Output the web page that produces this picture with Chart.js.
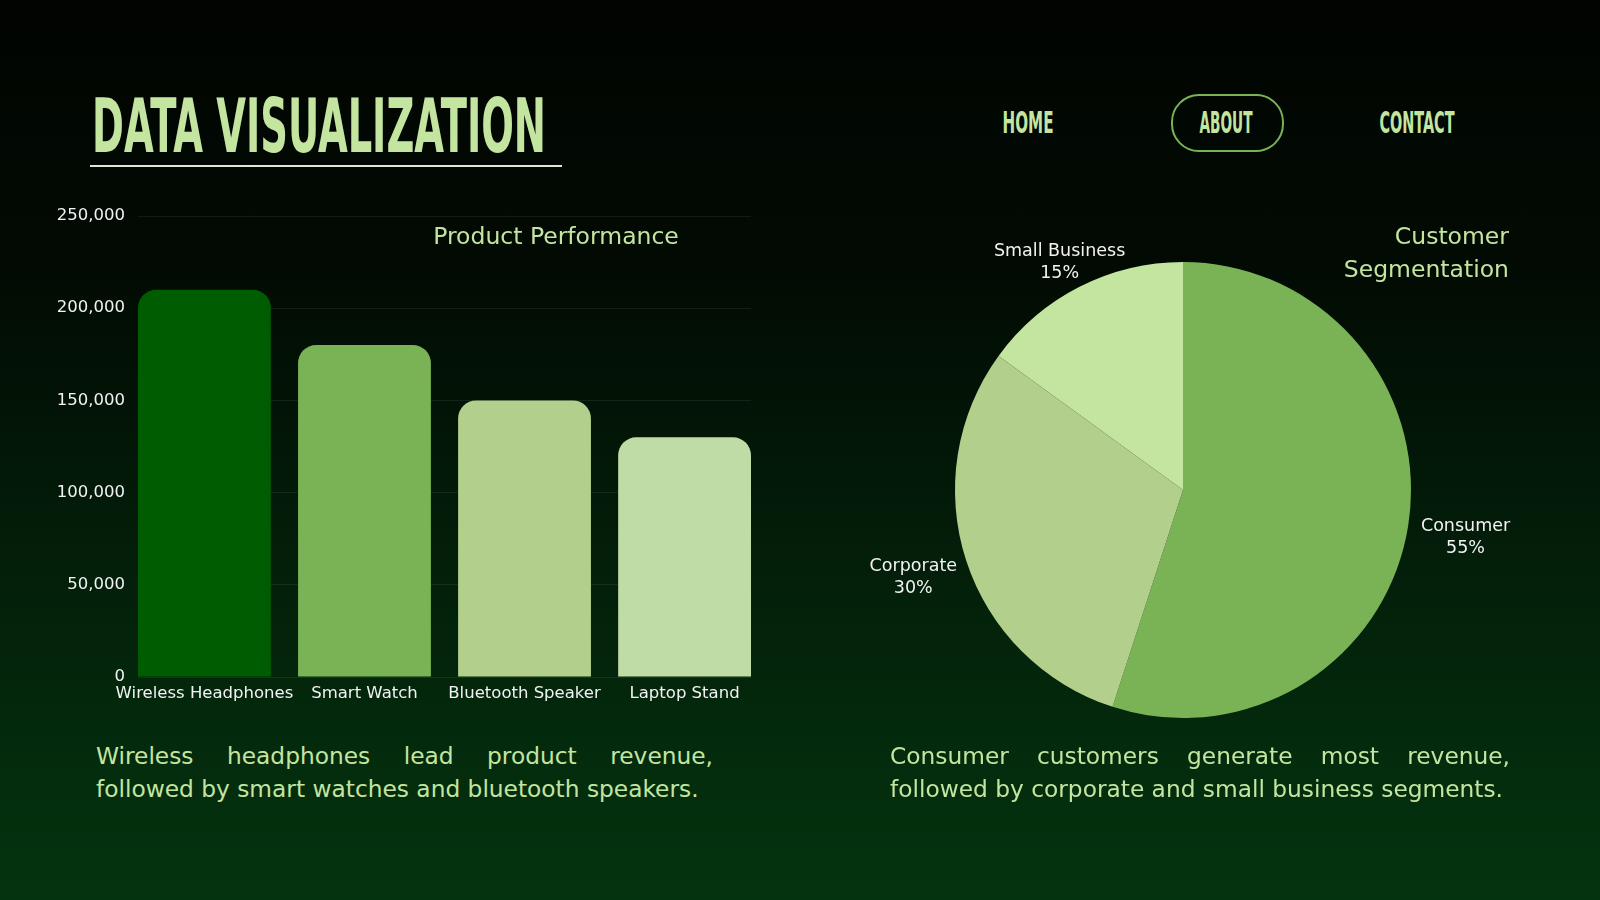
<!DOCTYPE html>
<html>
<head>
<meta charset="utf-8">
<script src="https://cdn.jsdelivr.net/npm/chart.js@4.4.1/dist/chart.umd.min.js"></script>
<style>
  html, body { margin: 0; padding: 0; }
  body {
    width: 1600px; height: 900px; overflow: hidden; position: relative;
    background: linear-gradient(180deg, #010401 0%, #020b03 30%, #03200a 65%, #04340f 100%);
    font-family: "DejaVu Sans", sans-serif;
  }
  .title {
    position: absolute; left: 92px; top: 84px;
    font-family: "Liberation Sans Narrow", "DejaVu Sans Condensed", sans-serif;
    font-weight: bold; font-size: 75px; line-height: 84px; color: #c3e5a0;
    transform-origin: left center; white-space: nowrap;
  }
  .rule { position: absolute; left: 90px; top: 165px; width: 472px; height: 2px; background: #dfe8d6; }
  .nav {
    position: absolute; top: 106px; height: 34px; line-height: 34px;
    font-family: "Liberation Sans Narrow", "DejaVu Sans Condensed", sans-serif;
    font-weight: bold; font-size: 30px; color: #c3e5a0; white-space: nowrap;
  }
  .pill {
    position: absolute; left: 1171px; top: 94px; width: 109px; height: 54px;
    border: 2px solid #7ab356; border-radius: 28px;
  }
  .label { position: absolute; color: #c3e5a0; font-size: 23.5px; line-height: 33px; white-space: nowrap; }
  .desc { position: absolute; color: #c3e5a0; font-size: 23.3px; line-height: 33px; }
  .desc .l1 { display: block; text-align: justify; text-align-last: justify; }
  .desc .l2 { display: block; white-space: nowrap; }
  canvas { position: absolute; }
</style>
</head>
<body>
<div class="title" id="title">DATA VISUALIZATION</div>
<div class="rule"></div>
<div class="pill"></div>
<div class="nav" data-cx="1028" data-w="51">HOME</div>
<div class="nav" data-cx="1226" data-w="53">ABOUT</div>
<div class="nav" data-cx="1417" data-w="75">CONTACT</div>

<div id="barBox" style="position:absolute;left:40px;top:200px;width:720px;height:510px">
  <canvas id="barChart"></canvas>
</div>
<div class="label" style="left:556px;top:220px;transform:translateX(-50%)">Product Performance</div>

<div id="pieBox" style="position:absolute;left:833px;top:210px;width:700px;height:560px">
  <canvas id="pieChart"></canvas>
</div>
<div class="label" style="right:91px;top:220px;text-align:right">Customer<br>Segmentation</div>

<div class="desc" style="left:96px;top:739px;width:617px">
  <span class="l1">Wireless headphones lead product revenue,</span>
  <span class="l2">followed by smart watches and bluetooth speakers.</span>
</div>
<div class="desc" style="left:890px;top:739px;width:620px">
  <span class="l1">Consumer customers generate most revenue,</span>
  <span class="l2">followed by corporate and small business segments.</span>
</div>

<script>
const productLabels = ["Wireless Headphones", "Smart Watch", "Bluetooth Speaker", "Laptop Stand"]
const productRevenue = [210000, 180000, 150000, 130000]
const barColors = ["#005c00", "#7ab356", "#b2d08c", "#bfdba6"]
const revenueTicks = [0, 50000, 100000, 150000, 200000, 250000]

const segmentLabels = ["Consumer", "Corporate", "Small Business"]
const segmentShare = [55, 30, 15]
const segmentColors = ["#7ab356", "#b2d08c", "#c3e5a0"]

// squeeze the heading and menu to the condensed look of the original
const title = document.getElementById("title")
title.style.transform = "scaleX(" + (454 / title.getBoundingClientRect().width) + ")"
document.querySelectorAll(".nav").forEach((el) => {
  const w = el.getBoundingClientRect().width
  el.style.left = el.dataset.cx + "px"
  el.style.transform = "translateX(-50%) scaleX(" + (el.dataset.w / w) + ")"
})

Chart.defaults.font.family = '"DejaVu Sans", sans-serif'
Chart.defaults.color = "#f2f2f2"

// bars sit edge to edge with the grid, so x is an index axis with a bit of margin
const barFraction = 0.83
const barPoints = productRevenue.map((v, i) => ({ x: i, y: v }))

const barCtx = document.getElementById("barChart")

const barChart = new Chart(barCtx, {
  type: "bar",
  data: {
    datasets: [
      {
        data: barPoints,
        backgroundColor: barColors,
        borderRadius: { topLeft: 18, topRight: 18 },
        borderSkipped: "bottom",
        barPercentage: barFraction,
        categoryPercentage: 1,
      },
    ],
  },
  options: {
    responsive: true,
    maintainAspectRatio: false,
    animation: false,
    layout: { padding: { top: 16, right: 9 } },
    plugins: { legend: false, tooltip: { enabled: false } },
    scales: {
      x: {
        type: "linear",
        offset: false,
        min: -barFraction / 2,
        max: productLabels.length - 1 + barFraction / 2,
        grid: { display: false, drawTicks: false, offset: false },
        border: { display: false },
        afterBuildTicks: (scale) => { scale.ticks = productLabels.map((l, i) => ({ value: i })) },
        ticks: {
          font: { size: 16.5 },
          padding: 7,
          maxRotation: 0,
          autoSkip: false,
          callback: (v) => productLabels[v],
        },
        afterFit: (scale) => {
          scale.height = 33
          scale.paddingLeft = 0
          scale.paddingRight = 0
        },
      },
      y: {
        min: 0,
        max: 250000,
        grid: { color: "rgba(255,255,255,0.07)", drawTicks: false },
        border: { display: false },
        afterBuildTicks: (scale) => { scale.ticks = revenueTicks.map((v) => ({ value: v })) },
        ticks: {
          font: { size: 16.5 },
          padding: 13,
          callback: (v) => v.toLocaleString("en-US"),
        },
        afterFit: (scale) => {
          scale.width = 98
          scale.paddingTop = 0
          scale.paddingBottom = 0
        },
      },
    },
  },
})

// outside labels for the pie, placed from each arc's own geometry
const pieLabels = {
  id: "pieLabels",
  afterDatasetsDraw(chart) {
    const ctx = chart.ctx
    const meta = chart.getDatasetMeta(0)
    const total = segmentShare.reduce((a, b) => a + b, 0)
    ctx.save()
    ctx.font = '17.5px "DejaVu Sans", sans-serif'
    ctx.fillStyle = "#f2f2f2"
    ctx.textAlign = "center"
    ctx.textBaseline = "middle"
    meta.data.forEach((arc, i) => {
      const p = arc.getProps(["x", "y", "startAngle", "endAngle", "outerRadius"], true)
      const mid = (p.startAngle + p.endAngle) / 2
      const dx = Math.cos(mid)
      const dy = Math.sin(mid)
      const r = p.outerRadius + 14
      const name = segmentLabels[i]
      const pct = Math.round(segmentShare[i] / total * 100) + "%"
      const halfW = ctx.measureText(name).width / 2
      const x = p.x + dx * r + dx * Math.abs(dx) * halfW
      const y = p.y + dy * r + dy * 20 + 5
      ctx.fillText(name, x, y - 10)
      ctx.fillText(pct, x, y + 12)
    })
    ctx.restore()
  },
}

const pieCtx = document.getElementById("pieChart")

const pieChart = new Chart(pieCtx, {
  type: "pie",
  data: {
    labels: segmentLabels,
    datasets: [
      {
        data: segmentShare,
        backgroundColor: segmentColors,
        borderWidth: 0,
      },
    ],
  },
  options: {
    responsive: true,
    maintainAspectRatio: false,
    animation: false,
    layout: { padding: 52 },
    plugins: { legend: false, tooltip: { enabled: false } },
  },
  plugins: [pieLabels],
})
</script>
</body>
</html>
